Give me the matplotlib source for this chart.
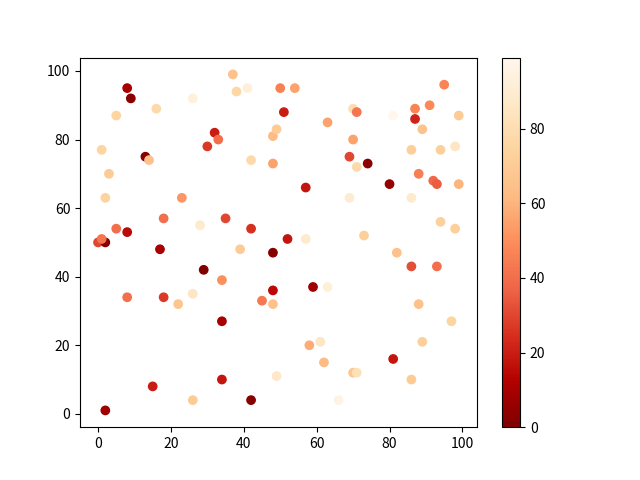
import matplotlib
matplotlib.use("Agg")
import matplotlib.pyplot as plt

plt.rcParams['font.family'] = ['Noto Sans CJK SC', 'DejaVu Sans']

x = [2, 8, 9, 5, 16, 26, 37, 38, 41, 1, 3, 2, 13, 14, 30, 32, 33, 23, 28, 42,
     48, 49, 48, 50, 54, 51, 57, 63, 69, 70, 70, 71, 71, 74, 81, 87, 87, 89, 91, 95,
     99, 98, 94, 86, 88, 92, 93, 99, 80, 86, 69, 73, 94, 98, 82, 86, 93, 88, 89, 97,
     86, 81, 66, 70, 71, 62, 58, 61, 63, 59, 57, 52, 48, 48, 45, 48, 49, 42, 34, 26,
     15, 34, 22, 26, 29, 34, 35, 39, 42, 17, 18, 18, 8, 8, 5, 0, 2, 1]
y = [1, 95, 92, 87, 89, 92, 99, 94, 95, 77, 70, 63, 75, 74, 78, 82, 80, 63, 55, 74,
     81, 83, 73, 95, 95, 88, 66, 85, 75, 80, 89, 88, 72, 73, 87, 89, 86, 83, 90, 96,
     87, 78, 77, 77, 70, 68, 67, 67, 67, 63, 63, 52, 56, 54, 47, 43, 43, 32, 21, 27,
     10, 16, 4, 12, 12, 15, 20, 21, 37, 37, 51, 51, 47, 36, 33, 32, 11, 4, 10, 4,
     8, 27, 32, 35, 42, 39, 57, 48, 54, 48, 34, 57, 34, 53, 54, 50, 50, 51]
c = [8, 10, 3, 75, 78, 93, 65, 76, 92, 75, 70, 74, 3, 65, 27, 20, 40, 52, 88, 78,
     62, 70, 55, 46, 55, 20, 18, 55, 30, 55, 80, 42, 78, 3, 99, 47, 22, 66, 48, 47,
     70, 85, 72, 72, 45, 38, 35, 60, 6, 88, 90, 72, 73, 72, 65, 32, 40, 65, 72, 75,
     70, 18, 96, 67, 82, 62, 58, 85, 92, 8, 88, 18, 2, 15, 43, 65, 87, 2, 18, 70,
     20, 10, 67, 85, 0, 50, 30, 70, 25, 10, 27, 40, 40, 15, 40, 30, 2, 42]

fig = plt.figure(figsize=(6.4, 4.8), dpi=100)
sc = plt.scatter(x, y, c=c, cmap='OrRd_r')
plt.colorbar(sc)
fig.savefig('out.png', dpi=100)
